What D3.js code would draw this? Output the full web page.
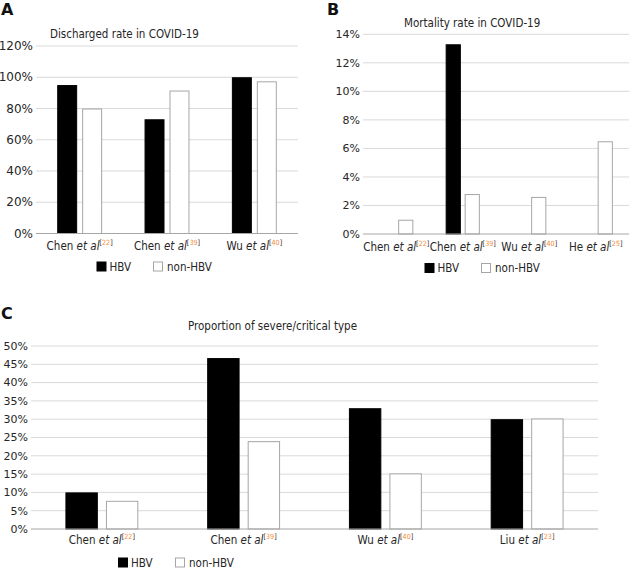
<!DOCTYPE html>
<html><head><meta charset="utf-8">
<script src="https://cdn.jsdelivr.net/npm/d3@7"></script>
<style>body{margin:0;background:#fff}svg{display:block;font-family:"DejaVu Sans Condensed","DejaVu Sans",sans-serif}</style>
</head><body>
<svg id="c" width="643" height="570"></svg>
<script>
// Panel A – Discharged rate
const catsA = ["Chen", "Chen", "Wu"];
const refsA = ["22", "39", "40"];
const hbvA = [95, 73.1, 100];
const nonA = [80, 91.5, 97.4];
const ticksA = [0, 20, 40, 60, 80, 100, 120];
// Panel B – Mortality rate
const catsB = ["Chen", "Chen", "Wu", "He"];
const refsB = ["22", "39", "40", "25"];
const hbvB = [0, 13.3, 0, 0];
const nonB = [1.0, 2.8, 2.6, 6.5];
const ticksB = [0, 2, 4, 6, 8, 10, 12, 14];
// Panel C – Severe/critical
const catsC = ["Chen", "Chen", "Wu", "Liu"];
const refsC = ["22", "39", "40", "23"];
const hbvC = [10, 46.7, 33, 30];
const nonC = [7.7, 24, 15.2, 30.2];
const ticksC = [0, 5, 10, 15, 20, 25, 30, 35, 40, 45, 50];
const seriesNames = ["HBV", "non-HBV"];

const svg = d3.select("#c");
const TXT = "#262626";

function panel(o) {
  const g = svg.append("g");
  const idx = o.cats.map((d, i) => i);
  const x = d3.scaleBand().domain(idx).range([o.x0, o.x1]).paddingInner(0).paddingOuter(0);
  const xi = d3.scaleBand().domain([0, 1]).range([0, x.bandwidth()]).paddingInner(0.2).paddingOuter(0.85);
  const y = d3.scaleLinear().domain([0, d3.max(o.ticks)]).range([o.y0, o.y1]);

  // gridlines
  g.append("g").selectAll("line").data(o.ticks.filter(t => t > 0)).join("line")
    .attr("x1", o.x0).attr("x2", o.x1)
    .attr("y1", d => y(d)).attr("y2", d => y(d))
    .attr("stroke", "#d9d9d9").attr("stroke-width", 1);

  // y tick labels
  g.append("g").selectAll("text").data(o.ticks).join("text")
    .attr("x", o.x0 - 3).attr("y", d => y(d)).attr("dy", "0.35em")
    .attr("text-anchor", "end").attr("font-size", o.tickFs).attr("fill", TXT)
    .attr("font-family", "DejaVu Sans, sans-serif")
    .text(d => d + "%");

  // bars
  const rows = idx.map(i => ({ i, v: [o.hbv[i], o.non[i]] }));
  const grp = g.append("g").selectAll("g").data(rows).join("g")
    .attr("transform", d => `translate(${x(d.i)},0)`);
  grp.selectAll("rect").data(d => d.v.map((v, s) => ({ v, s })).filter(e => e.v > 0)).join("rect")
    .attr("x", d => xi(d.s) + 0.5).attr("width", xi.bandwidth() - 1)
    .attr("y", d => y(d.v) + 0.5).attr("height", d => y(0) - y(d.v) - 0.5)
    .attr("fill", d => d.s === 0 ? "#000" : "#fff")
    .attr("stroke", d => d.s === 0 ? "#000" : "#a6a6a6").attr("stroke-width", 1);

  // baseline
  g.append("line").attr("x1", o.x0).attr("x2", o.x1)
    .attr("y1", y(0)).attr("y2", y(0)).attr("stroke", "#a6a6a6").attr("stroke-width", 1);

  // category labels
  const lab = g.append("g").selectAll("text").data(idx).join("text")
    .attr("x", i => x(i) + x.bandwidth() / 2).attr("y", o.labY)
    .attr("text-anchor", "middle").attr("font-size", o.labFs).attr("fill", TXT);
  lab.append("tspan").text(i => o.cats[i] + " ");
  lab.append("tspan").attr("font-style", "italic").text("et al");
  lab.append("tspan").attr("font-size", o.labFs * 0.62).attr("dy", -o.labFs * 0.42).text("[");
  lab.append("tspan").attr("font-size", o.labFs * 0.62).attr("fill", "#f28a35").text(i => o.refs[i]);
  lab.append("tspan").attr("font-size", o.labFs * 0.62).text("]");

  // title
  g.append("text").attr("x", o.titleX).attr("y", o.titleY).attr("dy", "0.35em")
    .attr("font-size", o.titleFs).attr("fill", TXT).text(o.title);

  // panel letter
  g.append("text").attr("x", o.letterX).attr("y", o.letterY).attr("dy", "0.35em")
    .attr("font-size", 16).attr("font-weight", "bold").attr("font-family", "DejaVu Sans, sans-serif")
    .attr("fill", "#111").text(o.letter);

  // legend
  const lg = g.append("g").selectAll("g").data(seriesNames).join("g")
    .attr("transform", (d, s) => `translate(${o.legX[s]},${o.legY})`);
  lg.append("rect").attr("x", 0.5).attr("y", -4.5).attr("width", 9).attr("height", 9)
    .attr("fill", (d, s) => s === 0 ? "#000" : "#fff")
    .attr("stroke", (d, s) => s === 0 ? "#000" : "#a6a6a6");
  lg.append("text").attr("x", (d, s) => s === 0 ? 13 : 14).attr("y", 0).attr("dy", "0.35em")
    .attr("font-size", o.labFs).attr("fill", TXT).text(d => d);
}

panel({ cats: catsA, refs: refsA, hbv: hbvA, non: nonA, ticks: ticksA,
  x0: 36, x1: 298, y0: 233.5, y1: 46, tickFs: 12, labFs: 11.5, labY: 250,
  title: "Discharged rate in COVID-19", titleX: 50, titleY: 34, titleFs: 11.5,
  letter: "A", letterX: 1, letterY: 9, legX: [96.5, 153], legY: 266.5 });

panel({ cats: catsB, refs: refsB, hbv: hbvB, non: nonB, ticks: ticksB,
  x0: 363, x1: 629, y0: 234, y1: 34.3, tickFs: 11, labFs: 11.5, labY: 251,
  title: "Mortality rate in COVID-19", titleX: 404, titleY: 22.5, titleFs: 11.5,
  letter: "B", letterX: 327, letterY: 9, legX: [424.5, 481], legY: 268 });

panel({ cats: catsC, refs: refsC, hbv: hbvC, non: nonC, ticks: ticksC,
  x0: 31, x1: 598, y0: 529, y1: 346, tickFs: 11, labFs: 11.5, labY: 544,
  title: "Proportion of severe/critical type", titleX: 188, titleY: 326, titleFs: 11.5,
  letter: "C", letterX: 1, letterY: 313, legX: [118, 175], legY: 562.5 });
</script>
</body></html>
